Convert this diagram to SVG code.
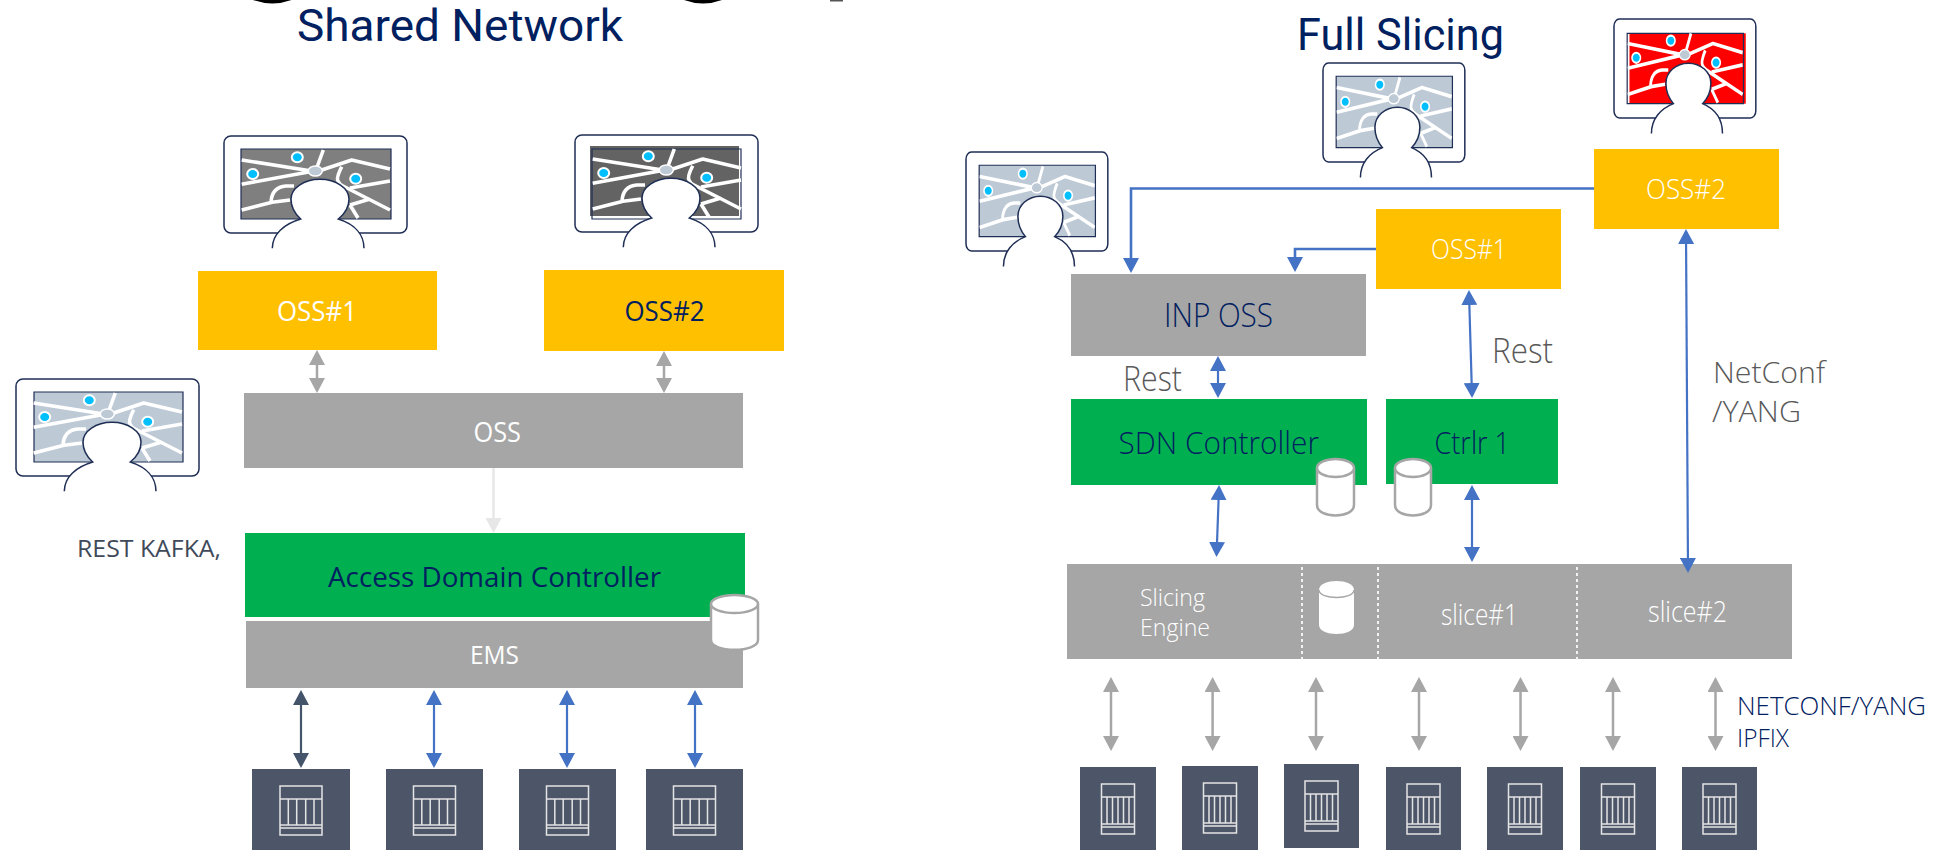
<svg xmlns="http://www.w3.org/2000/svg" width="1939" height="850" viewBox="0 0 1939 850">
<style>
text{font-family:"Open Sans","Noto Sans","Liberation Sans",sans-serif;text-anchor:start}
.t{font-family:Roboto,"Open Sans",sans-serif}
.w{fill:#fff}.n{fill:#002060}.g{fill:#595959}.l{font-weight:300}
.fr{fill:#fff;stroke:#1f2e55;stroke-width:1.5;vector-effect:non-scaling-stroke}
.ou{fill:none;stroke:#1f2e55;stroke-width:1.2;vector-effect:non-scaling-stroke}
.rd{fill:none;stroke:#fff;stroke-width:3.6;stroke-linejoin:round}
.hb{fill:#bdc9d5;stroke:#fff;stroke-width:1.5}
.pn{fill:#00bfff;stroke:#fff;stroke-width:2}
.cy{fill:#fff;stroke:#a6a6a6;stroke-width:2.5}
.ic{fill:none;stroke:#e4e4e4;stroke-width:1.5}
.dv{fill:#4d5668}
.ab{stroke:#4472c4;stroke-width:2.2;fill:none;marker-start:url(#mb);marker-end:url(#mb)}
.ae{stroke:#4472c4;stroke-width:2.6;fill:none;marker-end:url(#mb)}
.ag{stroke:#a6a6a6;stroke-width:2.5;fill:none;marker-start:url(#mg);marker-end:url(#mg)}
.ad{stroke:#44546a;stroke-width:2.2;fill:none;marker-start:url(#md);marker-end:url(#md)}
.al{stroke:#e7e7e7;stroke-width:2.5;fill:none;marker-end:url(#ml)}
.dt{stroke:#f2f2f2;stroke-width:2;stroke-dasharray:3 3;fill:none}
</style>
<defs>
<marker id="mb" markerUnits="userSpaceOnUse" markerWidth="16" markerHeight="16" refX="12" refY="8" orient="auto-start-reverse"><path d="M0 0L15 8L0 16z" fill="#4472c4"/></marker>
<marker id="mg" markerUnits="userSpaceOnUse" markerWidth="16" markerHeight="16" refX="12" refY="8" orient="auto-start-reverse"><path d="M0 0L15 8L0 16z" fill="#a6a6a6"/></marker>
<marker id="md" markerUnits="userSpaceOnUse" markerWidth="16" markerHeight="16" refX="12" refY="8" orient="auto-start-reverse"><path d="M0 0L15 8L0 16z" fill="#44546a"/></marker>
<marker id="ml" markerUnits="userSpaceOnUse" markerWidth="16" markerHeight="16" refX="12" refY="8" orient="auto-start-reverse"><path d="M0 0L15 8L0 16z" fill="#e7e7e7"/></marker>
<rect id="frame" class="fr" x="0" y="0" width="183" height="97" rx="7"/>
<g id="map">
<path class="rd" d="M17.7 24L86 34.700M17.700 48.300L86 35.700M99.300 14L92 34M97.700 34L127.700 24L166 33M117.700 30.700Q112 42 114 45Q115 48 119 50L166 74M126 52L166 45M17.700 74L48 66.300L66 64M47 66Q48 51 62 50L70 50M126 69L146 63M126 69L134 82"/>
<ellipse class="hb" cx="91.300" cy="35" rx="7" ry="5"/>
<ellipse class="pn" cx="73.300" cy="21.300" rx="5.500" ry="5"/>
<ellipse class="pn" cx="28.700" cy="38" rx="5.500" ry="5"/>
<ellipse class="pn" cx="131.700" cy="42.700" rx="5.500" ry="5"/>
</g>
<path id="person" class="fr" d="M48.300 112.300C48.300 98 60 88 76.700 83C70 77 67 71 67 63C67 52 80 43.300 96 43.300C112 43.300 125 52 125 63C125 71 122 77 114.300 83C130 88 140 98 140 112.300"/>
<g id="ic98"><rect class="ic" x="-21" y="17" width="42" height="49"/><path class="ic" d="M-21 30H21M-21 56H21M-21 59H21M-12.700 30V56M-4.300 30V56M4.700 30V56M13 30V56"/></g>
<g id="ic75"><rect class="ic" x="-16.500" y="17" width="33" height="50"/><path class="ic" d="M-16.500 30H16.500M-16.500 57H16.500M-16.500 60H16.500M-11 30V57M-5.500 30V57M0 30V57M5.500 30V57M11 30V57"/></g>
</defs>
<rect width="1939" height="850" fill="#fff"/>

<g id="page-top-fragments">
<path d="M253 0Q272 7 291.500 0z" fill="#000"/><path d="M684 0Q703 7 722 0z" fill="#000"/><rect x="830" y="0" width="13" height="1.500" fill="#555"/>
</g>
<text id="title-left" class="n t" x="297" y="41" font-size="44" textLength="326" lengthAdjust="spacingAndGlyphs">Shared Network</text>
<text id="title-right" class="n t" x="1297" y="50" font-size="44" textLength="207" lengthAdjust="spacingAndGlyphs">Full Slicing</text>

<g id="mon-l1" transform="translate(224 136)"><use href="#frame"/><rect x="17" y="13" width="150" height="70" fill="#7f7f7f"/><rect class="ou" x="17" y="13" width="150" height="70"/><use href="#map"/><use href="#person"/></g>
<g id="mon-l2" transform="translate(575 135)"><use href="#frame"/><rect x="15" y="11" width="149" height="70" fill="#636363"/><rect class="ou" x="17" y="14" width="149" height="70"/><use href="#map"/><use href="#person"/></g>
<g id="mon-l3" transform="translate(16 379)"><use href="#frame"/><rect x="18" y="13" width="149" height="70" fill="#bdc9d5"/><rect class="ou" x="18" y="13" width="149" height="70"/><use href="#map"/><use href="#person"/></g>
<g id="mon-r1" transform="translate(966 152) scale(.775 1.02)"><use href="#frame"/><rect x="17" y="13" width="150" height="70" fill="#bdc9d5"/><rect class="ou" x="17" y="13" width="150" height="70"/><use href="#map"/><use href="#person"/></g>
<g id="mon-r2" transform="translate(1323 63) scale(.775 1.02)"><use href="#frame"/><rect x="17" y="13" width="150" height="70" fill="#bdc9d5"/><rect class="ou" x="17" y="13" width="150" height="70"/><use href="#map"/><use href="#person"/></g>
<g id="mon-r3" transform="translate(1614 19) scale(.775 1.02)"><use href="#frame"/><rect x="20" y="14" width="150" height="69" fill="#f00"/><rect class="ou" x="17" y="14" width="150" height="69"/><use href="#map"/><use href="#person"/></g>

<g id="oss1-l"><rect x="198" y="271" width="239" height="79" fill="#ffc000"/><text class="w" x="277" y="321" font-size="28" textLength="80" lengthAdjust="spacingAndGlyphs">OSS#1</text></g>
<g id="oss2-l"><rect x="544" y="270" width="240" height="81" fill="#ffc000"/><text class="n" x="624.500" y="321" font-size="28" textLength="80" lengthAdjust="spacingAndGlyphs">OSS#2</text></g>
<g id="oss-l"><rect x="244" y="393" width="499" height="75" fill="#a6a6a6"/><text class="w" x="473.500" y="442" font-size="28" textLength="47.500" lengthAdjust="spacingAndGlyphs">OSS</text></g>
<text id="rest-kafka" x="77" y="557" font-size="24" fill="#3f4a5a" textLength="144" lengthAdjust="spacingAndGlyphs">REST KAFKA,</text>
<g id="adc"><rect x="245" y="533" width="500" height="84" fill="#00b050"/><text class="n" x="328" y="587" font-size="28" textLength="333" lengthAdjust="spacingAndGlyphs">Access Domain Controller</text></g>
<g id="ems"><rect x="246" y="621" width="497" height="67" fill="#a6a6a6"/><text class="w" x="470" y="664" font-size="26" textLength="49" lengthAdjust="spacingAndGlyphs">EMS</text></g>
<g id="cyl-l"><path class="cy" d="M711 604V640C711 653 758 653 758 640V604"/><ellipse class="cy" cx="734.500" cy="604" rx="23.500" ry="9"/></g>

<g id="dev-l1"><rect class="dv" x="252" y="769" width="98" height="81"/><use href="#ic98" transform="translate(301 769)"/></g>
<g id="dev-l2"><rect class="dv" x="386" y="769" width="97" height="81"/><use href="#ic98" transform="translate(434.500 769)"/></g>
<g id="dev-l3"><rect class="dv" x="519" y="769" width="97" height="81"/><use href="#ic98" transform="translate(567.500 769)"/></g>
<g id="dev-l4"><rect class="dv" x="646" y="769" width="97" height="81"/><use href="#ic98" transform="translate(694.500 769)"/></g>

<g id="oss2-r"><rect x="1594" y="149" width="185" height="80" fill="#ffc000"/><text class="w l" x="1646" y="199" font-size="28" textLength="80" lengthAdjust="spacingAndGlyphs">OSS#2</text></g>
<g id="oss1-r"><rect x="1376" y="209" width="185" height="80" fill="#ffc000"/><text class="w l" x="1431" y="259" font-size="28" textLength="76" lengthAdjust="spacingAndGlyphs">OSS#1</text></g>
<g id="inp-oss"><rect x="1071" y="274" width="295" height="82" fill="#a6a6a6"/><text class="n l" x="1164" y="327" font-size="33" textLength="109" lengthAdjust="spacingAndGlyphs">INP OSS</text></g>
<g id="sdn"><rect x="1071" y="399" width="296" height="86" fill="#00b050"/><text class="n l" x="1118.500" y="454" font-size="32" textLength="200.500" lengthAdjust="spacingAndGlyphs">SDN Controller</text></g>
<g id="ctrlr"><rect x="1386" y="399" width="172" height="85" fill="#00b050"/><text class="n l" x="1434.500" y="454" font-size="32" textLength="75.500" lengthAdjust="spacingAndGlyphs">Ctrlr 1</text></g>
<g id="cyl-r1"><path class="cy" d="M1317 468V505C1317 519 1354 519 1354 505V468"/><ellipse class="cy" cx="1335.500" cy="468" rx="18.500" ry="9"/></g>
<g id="cyl-r2"><path class="cy" d="M1395 468V505C1395 519 1431 519 1431 505V468"/><ellipse class="cy" cx="1413" cy="468" rx="18" ry="9"/></g>
<g id="slicing"><rect x="1067" y="564" width="725" height="95" fill="#a6a6a6"/>
<path class="dt" d="M1302 567V663M1378 567V663M1577 567V663"/>
<path d="M1319 590V625C1319 637 1354 637 1354 625V590C1354 578 1319 578 1319 590z" fill="#fff"/><path d="M1319 590C1319 600 1354 600 1354 590" fill="none" stroke="#a6a6a6" stroke-width="1.500"/>
<text class="w l" x="1140" y="606" font-size="24" textLength="65" lengthAdjust="spacingAndGlyphs">Slicing</text>
<text class="w l" x="1140" y="636" font-size="24" textLength="70" lengthAdjust="spacingAndGlyphs">Engine</text>
<text class="w l" x="1441" y="625" font-size="29" textLength="77" lengthAdjust="spacingAndGlyphs">slice#1</text>
<text class="w l" x="1648" y="622" font-size="29" textLength="79" lengthAdjust="spacingAndGlyphs">slice#2</text></g>
<text id="rest1" class="g l" x="1123" y="391" font-size="34" textLength="59" lengthAdjust="spacingAndGlyphs">Rest</text>
<text id="rest2" class="g l" x="1492" y="363" font-size="34" textLength="61" lengthAdjust="spacingAndGlyphs">Rest</text>
<text id="netconf1" class="g l" x="1713" y="383" font-size="30" textLength="112" lengthAdjust="spacingAndGlyphs">NetConf</text>
<text id="netconf2" class="g l" x="1712" y="422" font-size="30" textLength="89" lengthAdjust="spacingAndGlyphs">/YANG</text>
<text id="nc-caps" class="n l" x="1737" y="715" font-size="25" textLength="189" lengthAdjust="spacingAndGlyphs">NETCONF/YANG</text>
<text id="ipfix" class="n l" x="1737" y="747" font-size="25" textLength="52" lengthAdjust="spacingAndGlyphs">IPFIX</text>

<g id="dev-r1"><rect class="dv" x="1080" y="767" width="76" height="83"/><use href="#ic75" transform="translate(1118 767)"/></g>
<g id="dev-r2"><rect class="dv" x="1182" y="766" width="76" height="84"/><use href="#ic75" transform="translate(1220 766)"/></g>
<g id="dev-r3"><rect class="dv" x="1284" y="764" width="75" height="84"/><use href="#ic75" transform="translate(1321.500 764)"/></g>
<g id="dev-r4"><rect class="dv" x="1386" y="767" width="75" height="83"/><use href="#ic75" transform="translate(1423.500 767)"/></g>
<g id="dev-r5"><rect class="dv" x="1487" y="767" width="76" height="83"/><use href="#ic75" transform="translate(1525 767)"/></g>
<g id="dev-r6"><rect class="dv" x="1580" y="767" width="76" height="83"/><use href="#ic75" transform="translate(1618 767)"/></g>
<g id="dev-r7"><rect class="dv" x="1682" y="767" width="75" height="83"/><use href="#ic75" transform="translate(1719.500 767)"/></g>

<g id="connectors">
<path class="ag" d="M317 353V390"/><path class="ag" d="M664 354V390"/>
<path class="al" d="M493.500 468V530"/>
<path class="ad" d="M301 693V765"/><path class="ab" d="M434 693V765"/><path class="ab" d="M567 693V765"/><path class="ab" d="M695 693V765"/>
<path class="ae" d="M1594 188.500H1131V270"/>
<path class="ae" d="M1376 249H1295V269"/>
<path class="ab" d="M1218 359V395"/>
<path class="ab" d="M1469 293L1472 395"/>
<path class="ab" d="M1686 232L1688 570"/>
<path class="ab" d="M1219 488L1216.600 554"/>
<path class="ab" d="M1472 488V559"/>
<path class="ag" d="M1111 680V748"/><path class="ag" d="M1212.600 680V748"/><path class="ag" d="M1316 680V748"/><path class="ag" d="M1419 680V748"/><path class="ag" d="M1520.500 680V748"/><path class="ag" d="M1613 680V748"/><path class="ag" d="M1715.500 680V748"/>
</g>
</svg>
